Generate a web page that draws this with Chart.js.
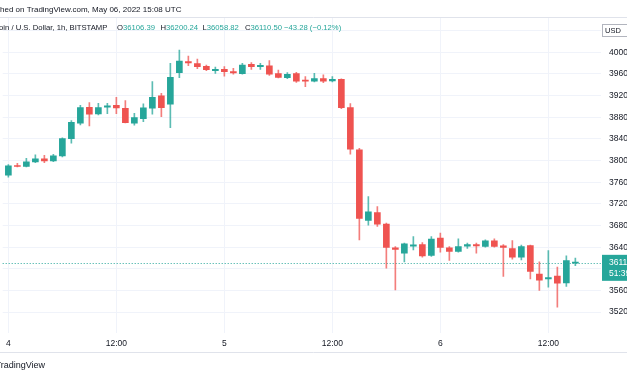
<!DOCTYPE html>
<html>
<head>
<meta charset="utf-8">
<script src="https://cdn.jsdelivr.net/npm/chart.js@4.4.1/dist/chart.umd.min.js"></script>
<style>
  html, body { margin: 0; padding: 0; background: #ffffff; }
  #wrap { width: 627px; height: 376px; }
</style>
</head>
<body>
<div id="wrap"><canvas id="btcChart" width="627" height="376"></canvas></div>
<script>
// hourly candles, May 4 00:00 .. May 6 15:00 (UTC)
const opens = [
  37729, 37902, 37890, 37975, 38031, 37994, 38086, 38406, 38690, 38985,
  38860, 38985, 39022, 38966, 38690, 38775, 38966, 39194, 39040, 39625,
  39828, 39791, 39742, 39661, 39686, 39643, 39606, 39778, 39735, 39748,
  39606, 39532, 39606, 39489, 39465, 39514, 39471, 39502, 38978, 38197,
  36892, 37040, 36825, 36388, 36289, 36418, 36449, 36246, 36566, 36388,
  36320, 36418, 36449, 36412, 36517, 36425, 36375, 36215, 36431, 35901,
  35815, 35864, 35741, 36106.39
];
const highs = [
  37926, 37951, 38043, 38105, 38098, 38117, 38418, 38738, 39022, 39071,
  39058, 39058, 39169, 39108, 38874, 39046, 39458, 39243, 39797, 40043,
  39932, 39877, 39766, 39729, 39735, 39705, 39797, 39809, 39797, 39846,
  39674, 39625, 39631, 39551, 39612, 39582, 39551, 39508, 39052, 38228,
  37335, 37151, 36843, 36412, 36474, 36597, 36486, 36597, 36658, 36412,
  36554, 36474, 36474, 36535, 36554, 36449, 36523, 36437, 36437, 36129,
  36338, 36031, 36240, 36200.24
];
const lows = [
  37692, 37883, 37883, 37963, 37963, 37981, 38068, 38320, 38658, 38640,
  38843, 38868, 38868, 38695, 38652, 38720, 38855, 38812, 38609, 39532,
  39754, 39698, 39661, 39612, 39557, 39594, 39594, 39686, 39686, 39575,
  39526, 39514, 39446, 39366, 39452, 39440, 39452, 38960, 38117, 36535,
  36806, 36781, 36012, 35612, 36129, 36351, 36215, 36228, 36308, 36154,
  36308, 36375, 36289, 36400, 36400, 35858, 36178, 36166, 35815, 35600,
  35661, 35292, 35674, 36058.82
];
const closes = [
  37902, 37890, 37975, 38031, 37994, 38086, 38406, 38708, 38978, 38855,
  38978, 39009, 38972, 38702, 38794, 38972, 39169, 38978, 39538, 39840,
  39803, 39735, 39680, 39686, 39643, 39618, 39766, 39735, 39760, 39594,
  39538, 39594, 39465, 39465, 39514, 39465, 39502, 38978, 38209, 36929,
  37052, 36825, 36394, 36357, 36462, 36443, 36240, 36548, 36394, 36320,
  36412, 36449, 36425, 36517, 36412, 36394, 36215, 36412, 35951, 35791,
  35840, 35735, 36153.78, 36110.50
];
const xTickHours = [0, 12, 24, 36, 48, 60];
const xTickLabels = ["4", "12:00", "5", "12:00", "6", "12:00"];
const yTicks = [35200, 35600, 36000, 36400, 36800, 37200, 37600, 38000, 38400, 38800, 39200, 39600, 40000, 40400];

const UP = "#26a69a";
const DOWN = "#ef5350";
const FONT = "'Liberation Sans', Arial, sans-serif";

const isUp = closes.map((c, i) => c >= opens[i]);
const bodyColors = isUp.map((u) => (u ? UP : DOWN));
const wickColors = isUp.map((u) => (u ? "rgba(38,166,154,0.75)" : "rgba(239,83,80,0.75)"));

const wickData = opens.map((o, i) => ({ x: i, y: [lows[i], highs[i]] }));
const bodyData = opens.map((o, i) => ({ x: i, y: [o, closes[i]] }));

const overlay = {
  id: "overlay",
  beforeDraw(chart) {
    const ctx = chart.ctx;
    ctx.save();
    ctx.fillStyle = "#ffffff";
    ctx.fillRect(0, 0, chart.width, chart.height);
    ctx.restore();
  },
  beforeDatasetsDraw(chart) {
    const ctx = chart.ctx;
    const area = chart.chartArea;
    const py = Math.round(chart.scales.y.getPixelForValue(closes[closes.length - 1])) + 0.5;
    ctx.save();
    ctx.strokeStyle = UP;
    ctx.lineWidth = 1;
    ctx.setLineDash([1, 2]);
    ctx.beginPath();
    ctx.moveTo(area.left, py);
    ctx.lineTo(area.right, py);
    ctx.stroke();
    ctx.restore();
  },
  afterDraw(chart) {
    const ctx = chart.ctx;
    const area = chart.chartArea;
    ctx.save();

    // separators
    ctx.strokeStyle = "#e0e3eb";
    ctx.lineWidth = 1;
    ctx.beginPath();
    ctx.moveTo(0, 17.5);
    ctx.lineTo(chart.width, 17.5);
    ctx.moveTo(0, 352.5);
    ctx.lineTo(chart.width, 352.5);
    ctx.stroke();

    // header
    ctx.font = "8px " + FONT;
    ctx.textBaseline = "middle";
    ctx.fillStyle = "#131722";
    const line1 = "Published on TradingView.com, May 06, 2022 15:08 UTC";
    ctx.fillText(line1, -ctx.measureText("Publis").width, 10);

    ctx.font = "7.7px " + FONT;
    const sym = "Bitcoin / U.S. Dollar, 1h, BITSTAMP";
    ctx.fillText(sym, -ctx.measureText("Bitc").width - 1, 28);
    const parts = [
      ["O", "36106.39", 117],
      ["H", "36200.24", 160.5],
      ["L", "36058.82", 202.5],
      ["C", "36110.50", 245],
    ];
    parts.forEach(([k, v, x]) => {
      ctx.fillStyle = "#131722";
      ctx.fillText(k, x, 28);
      ctx.fillStyle = UP;
      ctx.fillText(v, x + ctx.measureText(k).width, 28);
    });
    ctx.fillStyle = UP;
    ctx.fillText("\u221243.28 (\u22120.12%)", 284, 28);

    // last price label
    const py = chart.scales.y.getPixelForValue(closes[closes.length - 1]);
    ctx.font = "8.5px " + FONT;
    ctx.fillStyle = UP;
    ctx.fillRect(area.right + 1, py - 8, chart.width - area.right, 26);
    ctx.fillStyle = "#ffffff";
    ctx.fillText("36110.50", 609, py);
    ctx.fillText("51:39", 609, py + 11);

    // currency box
    ctx.fillStyle = "#ffffff";
    ctx.fillRect(602.5, 24.5, 30, 12);
    ctx.strokeStyle = "#b2b5be";
    ctx.strokeRect(602.5, 24.5, 30, 12);
    ctx.fillStyle = "#131722";
    ctx.font = "7.5px " + FONT;
    ctx.fillText("USD", 605, 31);

    // footer
    ctx.font = "9px " + FONT;
    ctx.fillStyle = "#131722";
    ctx.fillText("TradingView", -ctx.measureText("T").width + 1, 366);
    ctx.restore();
  },
};

const ctx = document.getElementById("btcChart").getContext("2d");
new Chart(ctx, {
  type: "bar",
  data: {
    datasets: [
      {
        label: "body",
        data: bodyData,
        backgroundColor: bodyColors,
        barThickness: 6,
        minBarLength: 1,
        grouped: false,
        order: 0,
      },
      {
        label: "wick",
        data: wickData,
        backgroundColor: wickColors,
        barThickness: 1,
        grouped: false,
        order: 1,
      },
    ],
  },
  options: {
    responsive: false,
    animation: false,
    devicePixelRatio: 1,
    layout: { padding: { top: 18, left: 0, right: 0, bottom: 0 } },
    scales: {
      x: {
        type: "linear",
        offset: false,
        min: -0.63,
        max: 65.85,
        afterBuildTicks: (s) => {
          s.ticks = xTickHours.map((v) => ({ value: v }));
        },
        afterFit: (s) => {
          s.height = 43;
        },
        ticks: {
          autoSkip: false,
          maxRotation: 0,
          padding: 6,
          color: "#131722",
          font: { family: FONT, size: 8.5 },
          callback: (v) => xTickLabels[xTickHours.indexOf(v)],
        },
        grid: { color: "#f0f3fa", drawTicks: false, offset: false },
        border: { display: false },
      },
      y: {
        position: "right",
        min: 34814,
        max: 40634,
        afterBuildTicks: (s) => {
          s.ticks = yTicks.map((v) => ({ value: v }));
        },
        afterFit: (s) => {
          s.width = 26;
        },
        ticks: {
          padding: 8,
          color: "#131722",
          font: { family: FONT, size: 8.5 },
          callback: (v) => String(v),
        },
        grid: { color: "#f0f3fa", drawTicks: false },
        border: { display: false },
      },
    },
    plugins: {
      legend: { display: false },
      tooltip: { enabled: false },
    },
  },
  plugins: [overlay],
});
</script>
</body>
</html>
